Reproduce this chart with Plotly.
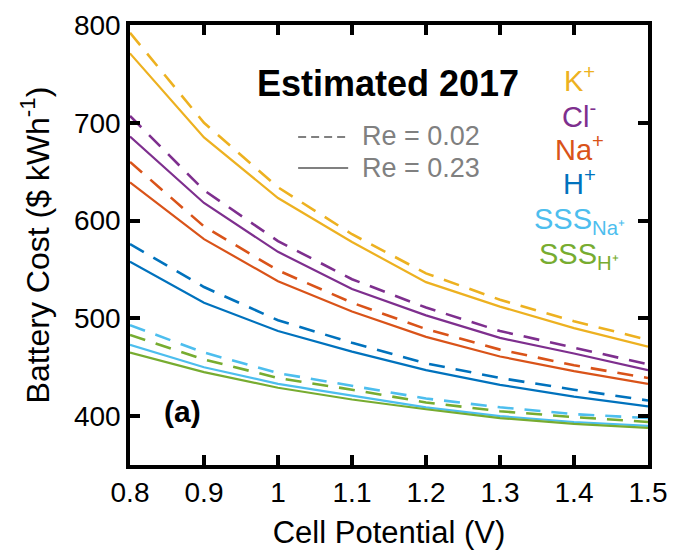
import plotly.graph_objects as go

# ---- data ----
voltage = [0.8, 0.9, 1.0, 1.1, 1.2, 1.3, 1.4, 1.5]
x_tick_vals = [0.8, 0.9, 1.0, 1.1, 1.2, 1.3, 1.4, 1.5]
x_tick_text = ["0.8", "0.9", "1", "1.1", "1.2", "1.3", "1.4", "1.5"]
y_tick_vals = [400, 500, 600, 700, 800]

k_re002 = [792, 700, 634, 586, 546, 519, 497, 478]
k_re023 = [771, 685, 623, 578, 537, 512, 490, 471]
cl_re002 = [707, 631, 579, 540, 511, 487, 470, 453]
cl_re023 = [686, 618, 568, 530, 503, 480, 464, 447]
na_re002 = [660, 594, 549, 516, 489, 468, 452, 439]
na_re023 = [639, 581, 538, 507, 481, 461, 446, 433]
h_re002 = [576, 532, 498, 475, 454, 439, 427, 416]
h_re023 = [558, 516, 487, 466, 447, 432, 420, 410]
sssna_re002 = [493, 465, 444, 431, 418, 409, 402, 398]
sssna_re023 = [473, 450, 433, 421, 409, 400, 394, 390]
sssh_re002 = [483, 458, 439, 427, 414, 405, 399, 394]
sssh_re023 = [465, 445, 429, 417, 407, 398, 392, 388]

series_names = ["K+", "Cl-", "Na+", "H+", "SSS_Na+", "SSS_H+"]
series_labels = ["K<sup>+</sup>", "Cl<sup>-</sup>", "Na<sup>+</sup>", "H<sup>+</sup>",
                 "SSS<sub>Na⁺</sub>", "SSS<sub>H⁺</sub>"]
series_colors = ["#EDB120", "#7E2F8E", "#D95319", "#0072BD", "#4DBEEE", "#77AC30"]
dashed_data = [k_re002, cl_re002, na_re002, h_re002, sssna_re002, sssh_re002]
solid_data = [k_re023, cl_re023, na_re023, h_re023, sssna_re023, sssh_re023]

FONT = "Liberation Sans, Arial, Helvetica, sans-serif"
GRAY = "#808080"

fig = go.Figure()
for name, col, dd, sd in zip(series_names, series_colors, dashed_data, solid_data):
    fig.add_trace(go.Scatter(x=voltage, y=dd, mode="lines", name=name + " Re=0.02",
                             line=dict(color=col, width=2.6, dash="16px,11px"),
                             showlegend=False))
    fig.add_trace(go.Scatter(x=voltage, y=sd, mode="lines", name=name + " Re=0.23",
                             line=dict(color=col, width=2.2),
                             showlegend=False))

# plot-area geometry helpers (paper coords)
L, R, T, B = 130, 647.6, 25, 465
W, H = 673, 550
def px(x):
    return (x - L) / (R - L)
def py(y):
    return (B - y) / (B - T)

annotations = []
annotations.append(dict(text="<b>Estimated 2017</b>", x=px(388), y=py(83),
                        xref="paper", yref="paper", showarrow=False,
                        xanchor="center", yanchor="middle",
                        font=dict(size=36, color="black", family=FONT)))
annotations.append(dict(text="<b>(a)</b>", x=px(182), y=py(411),
                        xref="paper", yref="paper", showarrow=False,
                        xanchor="center", yanchor="middle",
                        font=dict(size=30, color="black", family=FONT)))
annotations.append(dict(text="Re = 0.02", x=px(360), y=py(136),
                        xref="paper", yref="paper", showarrow=False,
                        xanchor="left", yanchor="middle",
                        font=dict(size=27, color=GRAY, family=FONT)))
annotations.append(dict(text="Re = 0.23", x=px(360), y=py(168),
                        xref="paper", yref="paper", showarrow=False,
                        xanchor="left", yanchor="middle",
                        font=dict(size=27, color=GRAY, family=FONT)))
label_y = [79, 115, 148, 182, 221, 256]
for lab, col, ly in zip(series_labels, series_colors, label_y):
    annotations.append(dict(text=lab, x=px(579), y=py(ly),
                            xref="paper", yref="paper", showarrow=False,
                            xanchor="center", yanchor="middle",
                            font=dict(size=29, color=col, family=FONT)))

shapes = [
    dict(type="line", xref="paper", yref="paper", x0=px(298), x1=px(348),
         y0=py(137), y1=py(137), line=dict(color=GRAY, width=2, dash="8px,5px")),
    dict(type="line", xref="paper", yref="paper", x0=px(298), x1=px(348),
         y0=py(168), y1=py(168), line=dict(color=GRAY, width=2)),
]

fig.update_layout(
    width=W, height=H,
    margin=dict(l=L, r=W - R, t=T, b=H - B, pad=0, autoexpand=False),
    plot_bgcolor="white", paper_bgcolor="white",
    font=dict(family=FONT, color="black"),
    annotations=annotations, shapes=shapes,
    showlegend=False,
)
fig.update_xaxes(range=[0.8, 1.5], tickvals=x_tick_vals, ticktext=x_tick_text,
                 automargin=False,
                 showgrid=False, zeroline=False, showline=True, linecolor="black",
                 linewidth=3.5, mirror="ticks", ticks="inside", ticklen=10,
                 tickwidth=3.5, tickcolor="black",
                 tickfont=dict(size=28, family=FONT, color="black"),
                 title=dict(text="Cell Potential (V)", standoff=16,
                            font=dict(size=31, family=FONT, color="black")))
fig.update_yaxes(range=[350, 800], tickvals=y_tick_vals,
                 automargin=False,
                 showgrid=False, zeroline=False, showline=True, linecolor="black",
                 linewidth=3.5, mirror="ticks", ticks="inside", ticklen=10,
                 tickwidth=3.5, tickcolor="black",
                 tickfont=dict(size=28, family=FONT, color="black"),
                 title=dict(text="Battery Cost ($ kWh<sup>-1</sup>)", standoff=16,
                            font=dict(size=32, family=FONT, color="black")))

fig.write_html("out.html")
